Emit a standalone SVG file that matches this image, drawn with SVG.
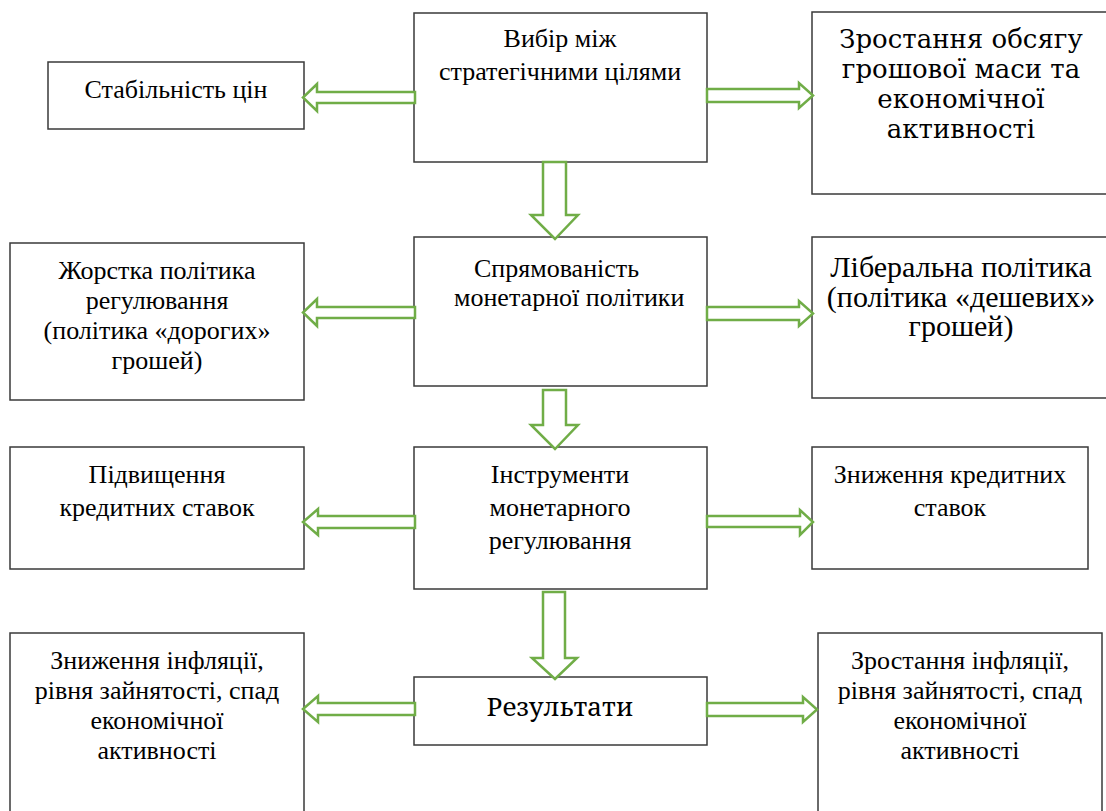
<svg xmlns="http://www.w3.org/2000/svg" width="1106" height="811" viewBox="0 0 1106 811">
<style>
.box{fill:#fff;stroke:#3a3a3a;stroke-width:1.5}
#connectors path{fill:#fff;stroke:#70ad47;stroke-width:2.5}
</style>
<rect width="1106" height="811" fill="#fff"/>
<g id="n-vybir"><rect class="box" x="414" y="13" width="293" height="149"/><text font-family="Times New Roman" font-size="26" text-anchor="middle" x="560" y="47">Вибір між</text><text font-family="Times New Roman" font-size="26" text-anchor="middle" x="560" y="80">стратегічними цілями</text></g>
<g id="n-stabilnist"><rect class="box" x="48" y="62" width="256" height="67"/><text font-family="serif" font-size="26" text-anchor="middle" x="176" y="98">Стабільність цін</text></g>
<g id="n-zrostannya-obsyagu"><rect class="box" x="812" y="12" width="300" height="182"/><text font-family="DejaVu Serif" font-size="26" text-anchor="middle" x="961" y="48">Зростання обсягу</text><text font-family="DejaVu Serif" font-size="26" text-anchor="middle" x="961" y="78">грошової маси та</text><text font-family="DejaVu Serif" font-size="26" text-anchor="middle" x="961" y="108">економічної</text><text font-family="DejaVu Serif" font-size="26" text-anchor="middle" x="961" y="138">активності</text></g>
<g id="n-spryamovanist"><rect class="box" x="414" y="237" width="293" height="149"/><text font-family="Liberation Serif" font-size="26" x="474" y="277">Спрямованість</text><text font-family="Liberation Serif" font-size="26" x="454" y="306">монетарної політики</text></g>
<g id="n-zhorstka"><rect class="box" x="10" y="243" width="294" height="157"/><text font-family="Liberation Serif" font-size="26" text-anchor="middle" x="157" y="279"><tspan font-family="Liberation Serif">Жорстка політика</tspan></text><text font-family="Liberation Serif" font-size="26" text-anchor="middle" x="157" y="309"><tspan font-family="Liberation Serif">регулювання</tspan></text><text font-family="Liberation Serif" font-size="26" text-anchor="middle" x="157" y="339"><tspan font-family="Liberation Serif">(політика «дорогих»</tspan></text><text font-family="Liberation Serif" font-size="26" text-anchor="middle" x="157" y="369"><tspan font-family="Liberation Serif">грошей)</tspan></text></g>
<g id="n-liberalna"><rect class="box" x="812" y="237" width="300" height="161"/><text font-family="Liberation Serif" font-size="30" text-anchor="middle" x="961" y="277">Ліберальна політика</text><text font-family="Liberation Serif" font-size="30" text-anchor="middle" x="961" y="307">(політика «дешевих»</text><text font-family="Liberation Serif" font-size="30" text-anchor="middle" x="961" y="336">грошей)</text></g>
<g id="n-instrumenty"><rect class="box" x="414" y="447" width="293" height="142"/></g>
<text font-family="Liberation Serif" font-size="26" text-anchor="middle" x="560" y="483">Інструменти</text><text font-family="Liberation Serif" font-size="26" text-anchor="middle" x="560" y="516">монетарного</text><text font-family="Liberation Serif" font-size="26" text-anchor="middle" x="560" y="549">регулювання</text>
<g id="n-pidvyshchennya"><rect class="box" x="10" y="447" width="294" height="122"/><text font-family="Liberation Serif" font-size="26" text-anchor="middle" x="157" y="483" xml:lang="uk">Підвищення</text><text font-family="Liberation Serif" font-size="26" text-anchor="middle" x="157" y="516" xml:lang="uk">кредитних ставок</text></g>
<g id="n-znyzhennya-kred"><rect class="box" x="812" y="447" width="276" height="122"/><text font-family="Liberation Serif" font-size="26" text-anchor="middle" x="950" y="483">Зниження кредитних</text><text font-family="Liberation Serif" font-size="26" text-anchor="middle" x="950" y="516">ставок</text></g>
<g id="n-rezultaty"><rect class="box" x="414" y="677" width="293" height="68"/><text font-family="Noto Serif" font-size="26" text-anchor="middle" x="560" y="716">Результати</text></g>
<g id="n-znyzhennya-infl"><rect class="box" x="10" y="633" width="294" height="190"/><text font-family="Liberation Serif" font-size="26" text-anchor="middle" x="157" y="669">Зниження інфляції,</text><text font-family="Liberation Serif" font-size="26" text-anchor="middle" x="157" y="699">рівня зайнятості, спад</text><text font-family="Liberation Serif" font-size="26" text-anchor="middle" x="157" y="729">економічної</text><text font-family="Liberation Serif" font-size="26" text-anchor="middle" x="157" y="759">активності</text></g>
<g id="n-zrostannya-infl"><rect class="box" x="818" y="633" width="284" height="190"/><text font-family="Liberation Serif" font-size="26" text-anchor="middle" x="960" y="669">Зростання інфляції,</text><text font-family="Liberation Serif" font-size="26" text-anchor="middle" x="960" y="699">рівня зайнятості, спад</text><text font-family="Liberation Serif" font-size="26" text-anchor="middle" x="960" y="729">економічної</text><text font-family="Liberation Serif" font-size="26" text-anchor="middle" x="960" y="759">активності</text></g>
<g id="connectors">
<path d="M415,92 H317 V84 L303,97.5 L317,111 V103 H415 Z"/>
<path d="M707,89 H799 V83 L813,95.5 L799,108 V102 H707 Z"/>
<path d="M543,162 V215 H531 L555,239 L578,215 H566 V162 Z"/>
<path d="M415,307 H317 V299 L303,312.5 L317,326 V318 H415 Z"/>
<path d="M707,307 H799 V301 L813,313.5 L799,326 V320 H707 Z"/>
<path d="M543,390 V425 H531 L555,449 L578,425 H566 V390 Z"/>
<path d="M415,516 H318 V509 L303,522 L318,535 V528 H415 Z"/>
<path d="M707,516 H800 V510 L813,522 L800,535 V527 H707 Z"/>
<path d="M543,592 V658 H532 L555,679 L577,658 H565 V592 Z"/>
<path d="M415,703 H318 V696 L303,709 L318,722 V715 H415 Z"/>
<path d="M707,703 H803 V697 L817,709.5 L803,722 V716 H707 Z"/>
</g>
</svg>
